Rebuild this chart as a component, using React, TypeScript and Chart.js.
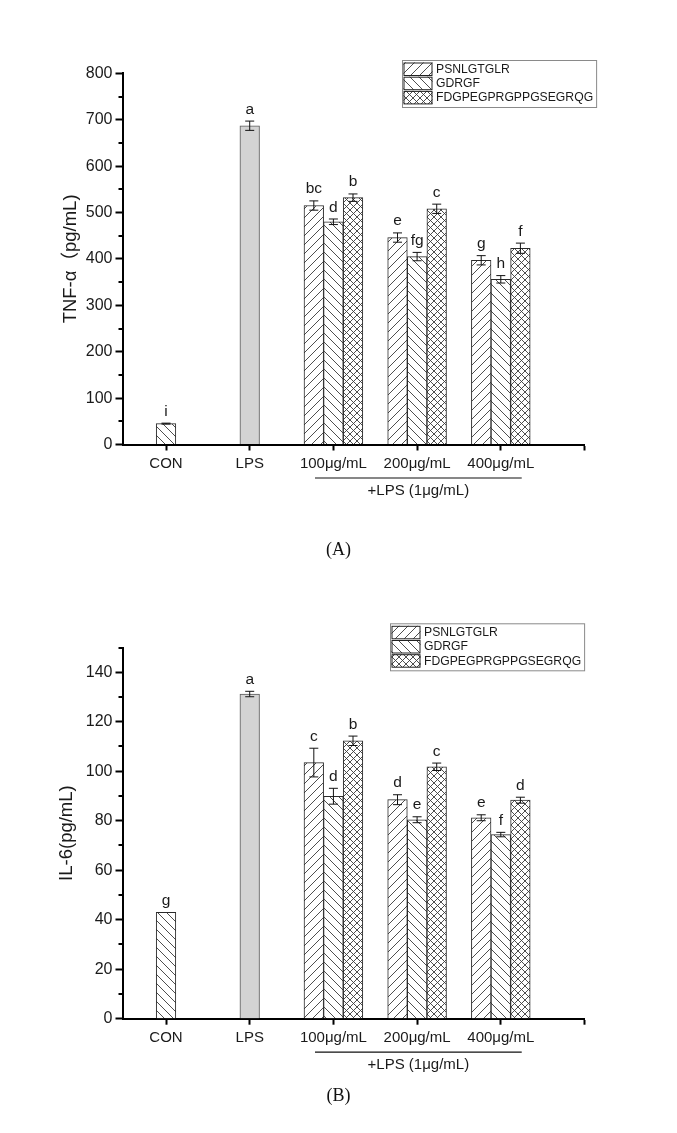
import React, { useEffect, useRef } from 'react';
import { Chart, registerables } from 'chart.js';

Chart.register(...registerables);

// Category axis labels and peptide names
const groupLabels = ['CON', 'LPS', '100μg/mL', '200μg/mL', '400μg/mL'];
const peptideNames = ['PSNLGTGLR', 'GDRGF', 'FDGPEGPRGPPGSEGRQG'];

// Panel A: TNF-α (pg/mL)
const tnfCon = [45];
const tnfConErr = [1];
const tnfConLetters = ['i'];
const tnfLps = [687];
const tnfLpsErr = [10];
const tnfLpsLetters = ['a'];
const tnfPsnlgtglr = [515, 446, 397];
const tnfPsnlgtglrErr = [10, 10, 10];
const tnfPsnlgtglrLetters = ['bc', 'e', 'g'];
const tnfGdrgf = [480, 405, 356];
const tnfGdrgfErr = [6, 9, 8];
const tnfGdrgfLetters = ['d', 'fg', 'h'];
const tnfFdg = [532, 508, 423];
const tnfFdgErr = [8, 10, 11];
const tnfFdgLetters = ['b', 'c', 'f'];

// Panel B: IL-6 (pg/mL)
const il6Con = [43];
const il6ConErr = [0];
const il6ConLetters = ['g'];
const il6Lps = [131.2];
const il6LpsErr = [1.1];
const il6LpsLetters = ['a'];
const il6Psnlgtglr = [103.5, 88.5, 81.2];
const il6PsnlgtglrErr = [5.8, 2.0, 1.2];
const il6PsnlgtglrLetters = ['c', 'd', 'e'];
const il6Gdrgf = [89.9, 80.4, 74.4];
const il6GdrgfErr = [3.2, 1.2, 0.9];
const il6GdrgfLetters = ['d', 'e', 'f'];
const il6Fdg = [112.3, 101.8, 88.3];
const il6FdgErr = [1.9, 1.5, 1.2];
const il6FdgLetters = ['b', 'c', 'd'];

const SANS = "'Liberation Sans', Arial, 'Noto Sans CJK SC', sans-serif";
const SERIF = "'Liberation Serif', 'Times New Roman', serif";

type Hatch = 'fwd' | 'back' | 'cross';

function makeHatch(kind: Hatch): CanvasPattern | string {
  const s = kind === 'cross' ? 7 : 9;
  const c = document.createElement('canvas');
  c.width = s;
  c.height = s;
  const g = c.getContext('2d');
  if (!g) return '#fff';
  g.fillStyle = '#ffffff';
  g.fillRect(0, 0, s, s);
  g.strokeStyle = '#3a3a3a';
  g.lineWidth = 0.9;
  const fwd = () => {
    g.beginPath();
    g.moveTo(-1, s + 1); g.lineTo(s + 1, -1);
    g.moveTo(-1, 1); g.lineTo(1, -1);
    g.moveTo(s - 1, s + 1); g.lineTo(s + 1, s - 1);
    g.stroke();
  };
  const back = () => {
    g.beginPath();
    g.moveTo(-1, -1); g.lineTo(s + 1, s + 1);
    g.moveTo(s - 1, -1); g.lineTo(s + 1, 1);
    g.moveTo(-1, s - 1); g.lineTo(1, s + 1);
    g.stroke();
  };
  if (kind === 'fwd') fwd();
  if (kind === 'back') back();
  if (kind === 'cross') { fwd(); back(); }
  const p = g.createPattern(c, 'repeat');
  return p || '#fff';
}

interface Series { values: number[]; errors: number[]; letters: string[] }
interface Panel {
  con: Series;
  lps: Series;
  peptides: Series[];
  yMax: number;
  yMajor: number;
  yMinor: number;
  yTitle: string;
  titleX: number;
  padTop: number;
  xAxisHeight: number;
  legendLeft: number;
  legendTop: number;
}

const panelA: Panel = {
  con: { values: tnfCon, errors: tnfConErr, letters: tnfConLetters },
  lps: { values: tnfLps, errors: tnfLpsErr, letters: tnfLpsLetters },
  peptides: [
    { values: tnfPsnlgtglr, errors: tnfPsnlgtglrErr, letters: tnfPsnlgtglrLetters },
    { values: tnfGdrgf, errors: tnfGdrgfErr, letters: tnfGdrgfLetters },
    { values: tnfFdg, errors: tnfFdgErr, letters: tnfFdgLetters },
  ],
  yMax: 800,
  yMajor: 100,
  yMinor: 50,
  yTitle: 'TNF-α（pg/mL)',
  titleX: 71,
  padTop: 73.3,
  xAxisHeight: 121.5,
  legendLeft: 402,
  legendTop: 60,
};

const panelB: Panel = {
  con: { values: il6Con, errors: il6ConErr, letters: il6ConLetters },
  lps: { values: il6Lps, errors: il6LpsErr, letters: il6LpsLetters },
  peptides: [
    { values: il6Psnlgtglr, errors: il6PsnlgtglrErr, letters: il6PsnlgtglrLetters },
    { values: il6Gdrgf, errors: il6GdrgfErr, letters: il6GdrgfLetters },
    { values: il6Fdg, errors: il6FdgErr, letters: il6FdgLetters },
  ],
  yMax: 150,
  yMajor: 20,
  yMinor: 10,
  yTitle: 'IL-6(pg/mL)',
  titleX: 67,
  padTop: 81.5,
  xAxisHeight: 114.3,
  legendLeft: 390,
  legendTop: 57.3,
};

const hatchKinds: Hatch[] = ['fwd', 'back', 'cross'];

function buildDatasets(p: Panel) {
  const base = {
    borderColor: '#2a2a2a',
    borderWidth: 1,
    barThickness: 19.6,
    skipNull: true,
    grouped: true,
  };
  const sets: any[] = [
    {
      ...base,
      label: 'CON',
      stack: 'con',
      backgroundColor: makeHatch('back'),
      data: p.con.values.map((v) => ({ x: 0, y: v })),
      errors: p.con.errors,
      letters: p.con.letters,
      inLegend: false,
    },
    {
      ...base,
      label: 'LPS',
      stack: 'lps',
      backgroundColor: '#d3d3d3',
      borderColor: '#5a5a5a',
      data: p.lps.values.map((v) => ({ x: 1, y: v })),
      errors: p.lps.errors,
      letters: p.lps.letters,
      inLegend: false,
    },
  ];
  p.peptides.forEach((s, k) => {
    sets.push({
      ...base,
      label: peptideNames[k],
      stack: 'p' + k,
      backgroundColor: makeHatch(hatchKinds[k]),
      data: s.values.map((v, i) => ({ x: i + 2, y: v })),
      errors: s.errors,
      letters: s.letters,
      inLegend: true,
    });
  });
  return sets;
}

// Error bars and significance letters above each bar
const errorLetterPlugin = {
  id: 'errorLetters',
  afterDatasetsDraw(chart: any) {
    const { ctx } = chart;
    const y = chart.scales.y;
    chart.data.datasets.forEach((ds: any, di: number) => {
      const meta = chart.getDatasetMeta(di);
      meta.data.forEach((bar: any, i: number) => {
        const v = ds.data[i].y;
        const e = ds.errors[i] || 0;
        const top = y.getPixelForValue(v + e);
        const bot = y.getPixelForValue(v - e);
        ctx.save();
        if (e > 0) {
          ctx.strokeStyle = '#111';
          ctx.lineWidth = 1;
          ctx.beginPath();
          ctx.moveTo(bar.x, top);
          ctx.lineTo(bar.x, bot);
          ctx.moveTo(bar.x - 4.5, top);
          ctx.lineTo(bar.x + 4.5, top);
          ctx.moveTo(bar.x - 4.5, bot);
          ctx.lineTo(bar.x + 4.5, bot);
          ctx.stroke();
        }
        ctx.fillStyle = '#1a1a1a';
        ctx.font = `15.5px ${SANS}`;
        ctx.textAlign = 'center';
        ctx.textBaseline = 'bottom';
        ctx.fillText(ds.letters[i], bar.x, top - 4);
        ctx.restore();
      });
    });
  },
};

// Minor ticks, rotated value-axis title, treatment bracket under the x axis, boxed legend
const decorPlugin = {
  id: 'decor',
  afterDraw(chart: any, _args: any, opts: any) {
    const { ctx, chartArea } = chart;
    const y = chart.scales.y;
    const x = chart.scales.x;
    ctx.save();
    // minor ticks
    ctx.strokeStyle = '#000';
    ctx.lineWidth = 2;
    for (let v = opts.minor; v <= opts.max + 1e-9; v += opts.major) {
      if (Math.abs(v % opts.major) < 1e-9) continue;
      const py = Math.round(y.getPixelForValue(v));
      ctx.beginPath();
      ctx.moveTo(chartArea.left - 4, py);
      ctx.lineTo(chartArea.left, py);
      ctx.stroke();
    }
    // value-axis title
    ctx.save();
    ctx.translate(opts.titleX, (chartArea.top + chartArea.bottom) / 2);
    ctx.rotate(-Math.PI / 2);
    ctx.fillStyle = '#1a1a1a';
    ctx.font = `18.5px ${SANS}`;
    ctx.textAlign = 'center';
    ctx.textBaseline = 'middle';
    ctx.fillText(opts.title, 0, 0);
    ctx.restore();

    // +LPS bracket
    const x1 = x.getPixelForValue(1.78);
    const x2 = x.getPixelForValue(4.25);
    const ly = chartArea.bottom + 33.5;
    ctx.strokeStyle = '#111';
    ctx.lineWidth = 1.2;
    ctx.beginPath();
    ctx.moveTo(x1, ly);
    ctx.lineTo(x2, ly);
    ctx.stroke();
    ctx.fillStyle = '#1a1a1a';
    ctx.font = `15px ${SANS}`;
    ctx.textAlign = 'center';
    ctx.textBaseline = 'middle';
    ctx.fillText('+LPS (1μg/mL)', (x1 + x2) / 2, chartArea.bottom + 46.5);

    // legend
    const items = chart.data.datasets.filter((d: any) => d.inLegend);
    ctx.font = `12.2px ${SANS}`;
    let tw = 0;
    items.forEach((d: any) => { tw = Math.max(tw, ctx.measureText(d.label).width); });
    const L = opts.legendLeft;
    const T = opts.legendTop;
    const sw = 29;
    const rowH = 14.2;
    const W = 1 + sw + 4 + tw + 3;
    const H = 47;
    ctx.fillStyle = '#fff';
    ctx.fillRect(L, T, W, H);
    ctx.strokeStyle = '#8a8a8a';
    ctx.lineWidth = 1;
    ctx.strokeRect(L + 0.5, T + 0.5, W, H);
    items.forEach((d: any, k: number) => {
      const cy = T + 9 + k * rowH;
      const sx = L + 1.5;
      const sy = cy - 6.5;
      ctx.fillStyle = d.backgroundColor;
      ctx.fillRect(sx, sy, sw, 13);
      ctx.strokeStyle = '#222';
      ctx.lineWidth = 1;
      ctx.strokeRect(sx + 0.5, sy + 0.5, sw - 1, 12.5);
      ctx.fillStyle = '#1a1a1a';
      ctx.textAlign = 'left';
      ctx.textBaseline = 'middle';
      ctx.fillText(d.label, L + 1 + sw + 4, cy + 0.5);
    });
    ctx.restore();
  },
};

function BarPanel({ panel, width, height }: { panel: Panel; width: number; height: number }) {
  const ref = useRef<HTMLCanvasElement | null>(null);
  useEffect(() => {
    if (!ref.current) return;
    const chart = new Chart(ref.current, {
      type: 'bar',
      data: { datasets: buildDatasets(panel) },
      plugins: [errorLetterPlugin, decorPlugin],
      options: {
        responsive: false,
        animation: false,
        events: [],
        layout: { padding: { left: 0, top: panel.padTop, right: 92.5, bottom: 0 } },
        plugins: {
          legend: { display: false },
          tooltip: { enabled: false },
          decor: {
            minor: panel.yMinor,
            major: panel.yMajor,
            max: panel.yMax,
            title: panel.yTitle,
            titleX: panel.titleX,
            legendLeft: panel.legendLeft,
            legendTop: panel.legendTop,
          },
        } as any,
        scales: {
          x: {
            type: 'linear',
            min: -0.52,
            max: 5,
            offset: false,
            afterBuildTicks: (s: any) => {
              s.ticks = [0, 1, 2, 3, 4, 5].map((v) => ({ value: v }));
            },
            afterFit: (s: any) => {
              s.height = panel.xAxisHeight;
            },
            grid: {
              display: true,
              drawOnChartArea: false,
              drawTicks: true,
              tickLength: 6,
              tickColor: '#000',
              tickWidth: 2,
              offset: false,
            },
            border: { display: true, color: '#000', width: 2 },
            ticks: {
              callback: (v: any) => groupLabels[v] ?? '',
              font: { family: SANS, size: 15 },
              color: '#1a1a1a',
              padding: 4,
              maxRotation: 0,
              autoSkip: false,
            },
          },
          y: {
            min: 0,
            max: panel.yMax,
            afterBuildTicks: (s: any) => {
              const t: { value: number }[] = [];
              for (let v = 0; v <= panel.yMax + 1e-9; v += panel.yMajor) t.push({ value: v });
              s.ticks = t;
            },
            afterFit: (s: any) => {
              s.width = 122.5;
            },
            grid: {
              display: true,
              drawOnChartArea: false,
              drawTicks: true,
              tickLength: 7,
              tickWidth: 2,
              tickColor: '#000',
            },
            border: { display: true, color: '#000', width: 2 },
            ticks: {
              callback: (v: any) => String(v),
              font: { family: SANS, size: 16 },
              color: '#1a1a1a',
              padding: 3,
              autoSkip: false,
            },
          },
        },
      } as any,
    });
    return () => chart.destroy();
  }, [panel]);
  return <canvas ref={ref} width={width} height={height} style={{ display: 'block', width, height }} />;
}

const captionStyle: React.CSSProperties = {
  position: 'absolute',
  left: 0,
  width: 677,
  textAlign: 'center',
  fontFamily: SERIF,
  fontSize: 18,
  lineHeight: '20px',
  color: '#111',
};

export default function App() {
  return (
    <div style={{ position: 'absolute', left: 0, top: 0, width: 677, height: 1133, background: '#fff', overflow: 'hidden' }}>
      <div style={{ position: 'absolute', left: 0, top: 0 }}>
        <BarPanel panel={panelA} width={677} height={566} />
      </div>
      <div style={{ ...captionStyle, top: 539 }}>(A)</div>
      <div style={{ position: 'absolute', left: 0, top: 566 }}>
        <BarPanel panel={panelB} width={677} height={567} />
      </div>
      <div style={{ ...captionStyle, top: 1085 }}>(B)</div>
    </div>
  );
}
